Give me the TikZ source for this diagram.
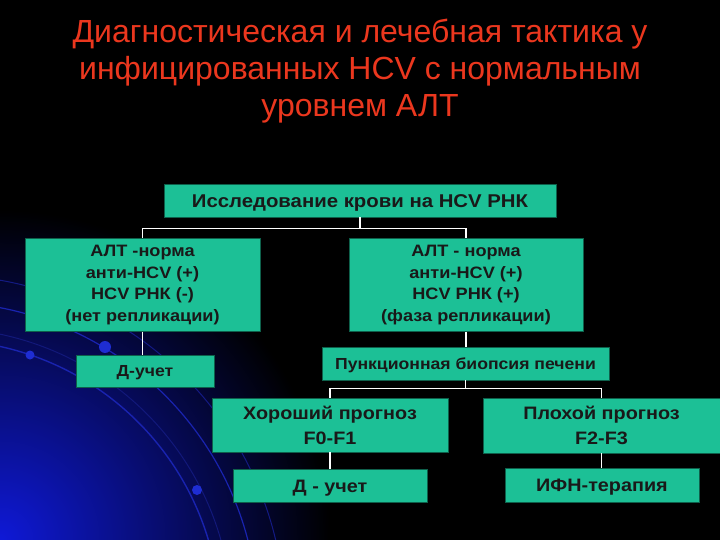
\documentclass[tikz,border=0pt]{standalone}
\usepackage{fontspec}
\setmainfont{Liberation Sans}
\newfontfamily\boxfont[FakeStretch=1.1]{Liberation Sans}
\usetikzlibrary{calc}
\definecolor{boxfill}{RGB}{28,192,150}
\definecolor{titlecol}{RGB}{235,55,30}
\definecolor{arccol}{RGB}{25,35,175}
\definecolor{dotcol}{RGB}{30,45,210}
\definecolor{glowcol}{RGB}{15,25,215}
\tikzset{
  box/.style={fill=boxfill, draw=black!50!boxfill, line width=0.4pt, inner sep=0pt, align=center, text=black!90},
  bxtop/.style={font=\boxfont\fontsize{18.5}{22}\selectfont\bfseries, text height=13.3pt, text depth=0pt},
  bxa/.style={font=\boxfont\fontsize{16.5}{21.5}\selectfont\bfseries},
  bxb/.style={font=\boxfont\fontsize{18}{25}\selectfont\bfseries},
  bxc/.style={font=\boxfont\fontsize{16}{19}\selectfont\bfseries, text height=11.5pt, text depth=0pt},
  oneline/.style={text height=13pt, text depth=0pt},
  ttl/.style={text=titlecol, anchor=base, inner sep=0pt, font=\fontsize{32}{37}\selectfont},
  conn/.style={draw=white, line width=1.3pt}
}
\begin{document}
\begin{tikzpicture}[x=1pt,y=-1pt]
\useasboundingbox (0,0) rectangle (720,540);
% background
\fill[black] (0,0) rectangle (720,540);
\begin{scope}
\clip (0,0) rectangle (720,540);
\shade[inner color=glowcol, outer color=black] (0,540) circle (330);
\draw[arccol, line width=1.4pt] (-60,620) circle (280);
\draw[arccol!70!black, line width=1pt] (-60,620) circle (292);
\draw[arccol, line width=1.2pt] (-60,620) circle (318);
\draw[arccol!75!black, line width=1pt] (-60,620) circle (345);
\fill[dotcol] (30,355) circle (4.5);
\fill[dotcol] (105,347) circle (6);
\fill[dotcol] (197,490) circle (5);
\end{scope}
% title
\node[ttl] (t1) at (360,43) {Диагностическая и лечебная тактика у};
\node[ttl] (t2) at (360,80) {инфицированных HCV с нормальным};
\node[ttl] (t3) at (360,117) {уровнем АЛТ};
% boxes
\node[box,bxtop,minimum width=392,minimum height=33] (top) at (360,200.5) {Исследование крови на HCV РНК};
\node[box,bxa,minimum width=235,minimum height=93] (left) at (142.5,285) {АЛТ -норма\\анти-HCV (+)\\HCV РНК (-)\\(нет репликации)};
\node[box,bxa,minimum width=234,minimum height=93] (right) at (466,285) {АЛТ - норма\\анти-HCV (+)\\HCV РНК (+)\\(фаза репликации)};
\node[box,bxc,minimum width=138,minimum height=32] (dl) at (145,371) {Д-учет};
\node[box,bxc,minimum width=287,minimum height=33] (punk) at (465.5,363.5) {Пункционная биопсия печени};
\node[box,bxb,minimum width=236,minimum height=54] (good) at (330,425) {Хороший прогноз\\F0-F1};
\node[box,bxb,minimum width=237,minimum height=55] (bad) at (601.5,425.5) {Плохой прогноз\\F2-F3};
\node[box,bxb,oneline,minimum width=194,minimum height=33] (du) at (330,485.5) {Д - учет};
\node[box,bxb,oneline,minimum width=194,minimum height=34] (ifn) at (602,485) {ИФН-терапия};
% connectors
\draw[conn] (top.south) -- ++(0,11) -| (left.north);
\draw[conn] (top.south) -- ++(0,11) -| (right.north);
\draw[conn] (left.south) -- (left.south |- dl.north);
\draw[conn] (right.south) -- (right.south |- punk.north);
\draw[conn] (punk.south) -- ++(0,8) -| (good.north);
\draw[conn] (punk.south) -- ++(0,8) -| (bad.north);
\draw[conn] (good.south) -- (du.north);
\draw[conn] (bad.south) -- (bad.south |- ifn.north);
\end{tikzpicture}
\end{document}
